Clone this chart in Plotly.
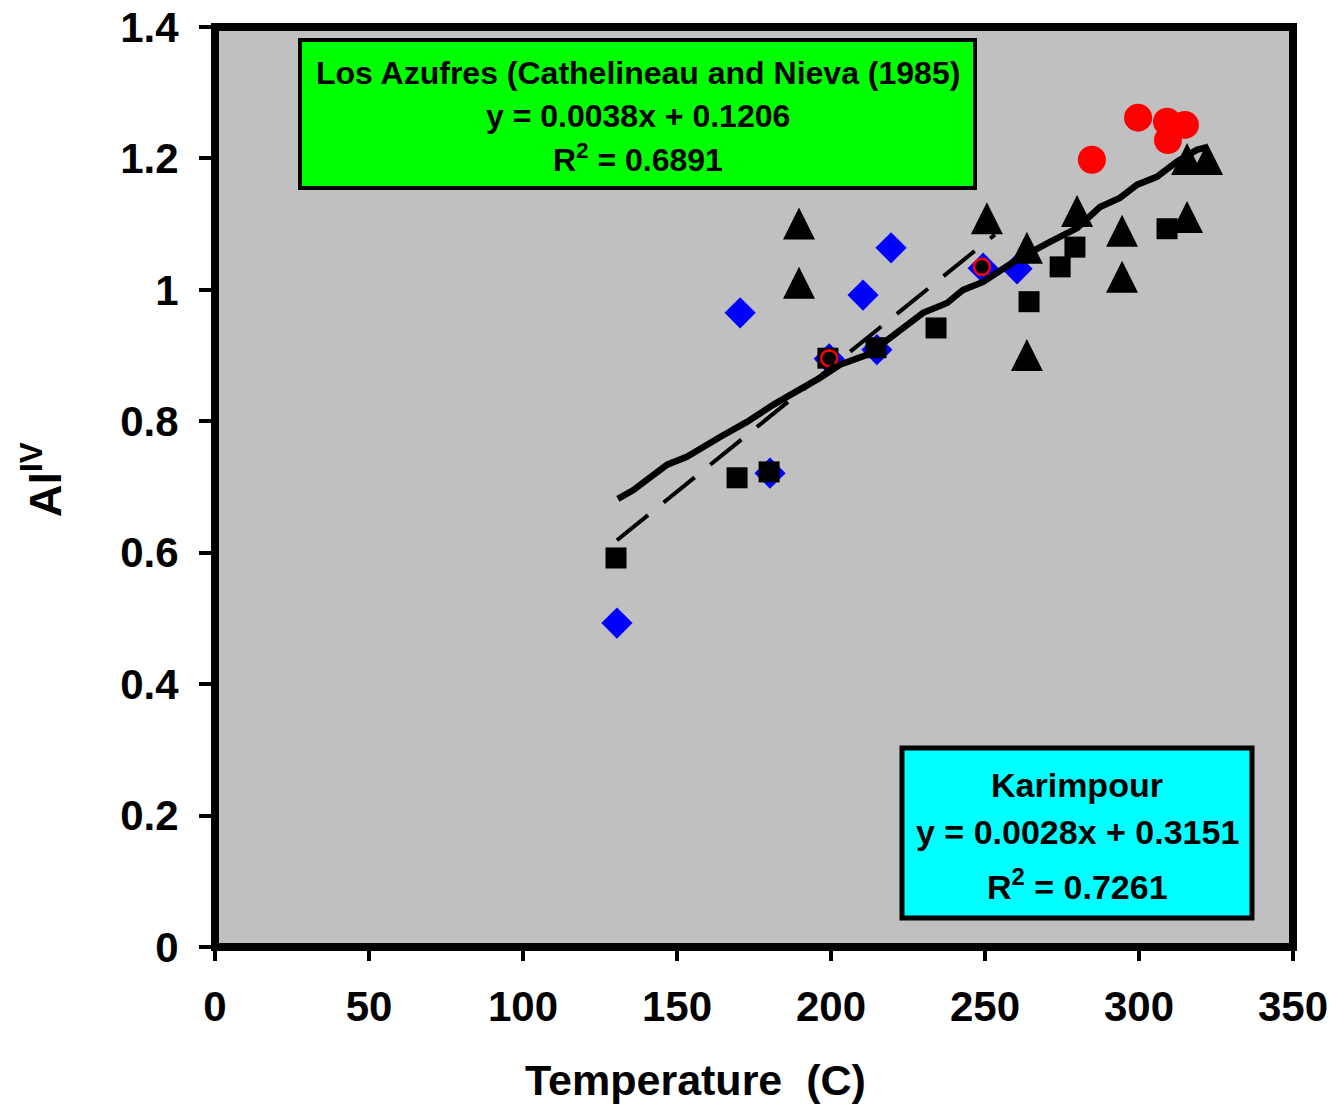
import plotly.graph_objects as go

# ---------------- data ----------------
diamond_T = [130.5, 170.5, 180.2, 199.4, 210.4, 214.9, 219.5, 249.4, 260.4]
diamond_Al = [0.493, 0.965, 0.721, 0.895, 0.992, 0.909, 1.064, 1.033, 1.032]

square_T = [130.2, 169.5, 179.9, 199.0, 214.6, 234.1, 264.3, 274.4, 279.2, 309.1]
square_Al = [0.592, 0.714, 0.723, 0.896, 0.912, 0.942, 0.982, 1.035, 1.065, 1.093]

triangle_T = [189.6, 189.6, 250.6, 263.6, 263.6, 279.9, 294.5, 294.5, 315.6, 322.1, 315.6]
triangle_Al = [1.101, 1.011, 1.109, 1.064, 0.901, 1.120, 1.090, 1.020, 1.199, 1.199, 1.111]

red_T = [284.7, 299.7, 309.1, 314.9, 309.4]
red_Al = [1.198, 1.262, 1.256, 1.251, 1.228]

ring_T = [199.4, 249.0]
ring_Al = [0.896, 1.035]

# Karimpour trend (hand-traced solid curve)
karim_T = [130.8, 135.7, 146.8, 153.2, 164.0, 172.7, 181.2, 189.9, 196.4, 202.9,
           211.7, 219.2, 229.9, 237.7, 242.9, 249.4, 260.4, 271.1, 279.9, 287.3,
           293.8, 299.4, 305.8, 312.3, 318.8, 322.1]
karim_Al = [0.682, 0.695, 0.734, 0.746, 0.776, 0.799, 0.825, 0.848, 0.866, 0.886,
            0.901, 0.927, 0.965, 0.980, 1.000, 1.012, 1.046, 1.073, 1.094, 1.126,
            1.140, 1.160, 1.172, 1.195, 1.213, 1.217]

# Los Azufres trend (dashed)
azuf_T = [130.5, 253.2]
azuf_Al = [0.619, 1.084]

x_ticks = [0, 50, 100, 150, 200, 250, 300, 350]
y_ticks = [0, 0.2, 0.4, 0.6, 0.8, 1.0, 1.2, 1.4]
y_tick_text = ["0", "0.2", "0.4", "0.6", "0.8", "1", "1.2", "1.4"]

green_lines = ["Los Azufres (Cathelineau and Nieva (1985)",
               "y = 0.0038x + 0.1206",
               "R<sup>2</sup> = 0.6891"]
cyan_lines = ["Karimpour",
              "y = 0.0028x + 0.3151",
              "R<sup>2</sup> = 0.7261"]

# ---------------- layout geometry ----------------
# page has an 8px body margin, so the figure is drawn 8px in from the window edge
OFF = 8
W, H = 1338 - 2 * OFF, 1112 - 2 * OFF
L, T = 215 - OFF, 27 - OFF
PW, PH = 1078, 920
R, B = W - L - PW, H - T - PH
FONT = "Liberation Sans, Arial, sans-serif"


def px(xp):
    # window pixel -> paper x
    return (xp - OFF - L) / PW


def py(yp):
    # window pixel -> paper y
    return (T + PH - (yp - OFF)) / PH


fig = go.Figure()

fig.add_trace(go.Scatter(
    x=diamond_T, y=diamond_Al, mode="markers", name="diamond",
    marker=dict(symbol="diamond", size=24, color="#0000ff", line=dict(width=0))))

fig.add_trace(go.Scatter(
    x=square_T, y=square_Al, mode="markers", name="square",
    marker=dict(symbol="square", size=21, color="#000000", line=dict(width=0))))

fig.add_trace(go.Scatter(
    x=ring_T, y=ring_Al, mode="markers", name="ring",
    marker=dict(symbol="circle", size=16, color="#000000",
                line=dict(width=2.5, color="#ff0000"))))

fig.add_trace(go.Scatter(
    x=red_T, y=red_Al, mode="markers", name="red",
    marker=dict(symbol="circle", size=28, color="#ff0000", line=dict(width=0))))

fig.add_trace(go.Scatter(
    x=triangle_T, y=triangle_Al, mode="markers", name="triangle",
    marker=dict(symbol="arrow-down", size=32, angle=180, standoff=16,
                color="#000000", line=dict(width=0))))

fig.add_trace(go.Scatter(
    x=azuf_T, y=azuf_Al, mode="lines", name="Los Azufres",
    line=dict(color="#000000", width=4, dash="40px,20px")))

fig.add_trace(go.Scatter(
    x=karim_T, y=karim_Al, mode="lines", name="Karimpour",
    line=dict(color="#000000", width=6.5)))

shapes = [
    # green box
    dict(type="rect", xref="paper", yref="paper", layer="above",
         x0=px(300), x1=px(975), y0=py(40), y1=py(188),
         fillcolor="#00ff00", line=dict(color="#000000", width=4)),
    # cyan box
    dict(type="rect", xref="paper", yref="paper", layer="above",
         x0=px(902), x1=px(1252), y0=py(748), y1=py(918),
         fillcolor="#00ffff", line=dict(color="#000000", width=5)),
    # plot frame
    dict(type="rect", xref="paper", yref="paper", layer="above",
         x0=0, x1=1, y0=0, y1=1,
         line=dict(color="#000000", width=8)),
]

annotations = []
for txt, yp in zip(green_lines, [73, 116, 158]):
    annotations.append(dict(
        text=txt, xref="paper", yref="paper", x=px(638), y=py(yp),
        xanchor="center", yanchor="middle", showarrow=False,
        font=dict(family=FONT, size=32, color="#000000", weight="bold")))
for txt, yp in zip(cyan_lines, [785, 832, 884]):
    annotations.append(dict(
        text=txt, xref="paper", yref="paper", x=px(1077), y=py(yp),
        xanchor="center", yanchor="middle", showarrow=False,
        font=dict(family=FONT, size=34, color="#000000", weight="bold")))

# axis titles
annotations.append(dict(
    text="Temperature  (C)", xref="paper", yref="paper", x=px(695), y=py(1080),
    xanchor="center", yanchor="middle", showarrow=False,
    font=dict(family=FONT, size=43, color="#000000", weight="bold")))
annotations.append(dict(
    text="Al<sup>IV</sup>", xref="paper", yref="paper", x=px(42), y=py(480),
    xanchor="center", yanchor="middle", showarrow=False, textangle=-90,
    font=dict(family=FONT, size=45, color="#000000", weight="bold")))

fig.update_layout(
    width=W, height=H,
    autosize=False,
    margin=dict(l=L, r=R, t=T, b=B, pad=0, autoexpand=False),
    paper_bgcolor="#ffffff",
    plot_bgcolor="#c0c0c0",
    showlegend=False,
    shapes=shapes,
    annotations=annotations,
    xaxis=dict(range=[0, 350], tickvals=x_ticks, ticktext=[str(v) for v in x_ticks],
               showgrid=False, zeroline=False, showline=False, automargin=False,
               ticklabeloverflow="allow",
               ticks="outside", ticklen=13, tickwidth=4, tickcolor="#000000",
               ticklabelstandoff=10,
               tickfont=dict(family=FONT, size=42, color="#000000", weight="bold")),
    yaxis=dict(range=[0, 1.4], tickvals=y_ticks, ticktext=y_tick_text,
               showgrid=False, zeroline=False, showline=False, automargin=False,
               ticklabeloverflow="allow",
               ticks="outside", ticklen=15, tickwidth=4, tickcolor="#000000",
               ticklabelstandoff=12,
               tickfont=dict(family=FONT, size=42, color="#000000", weight="bold")),
)

fig.write_html("out.html")
